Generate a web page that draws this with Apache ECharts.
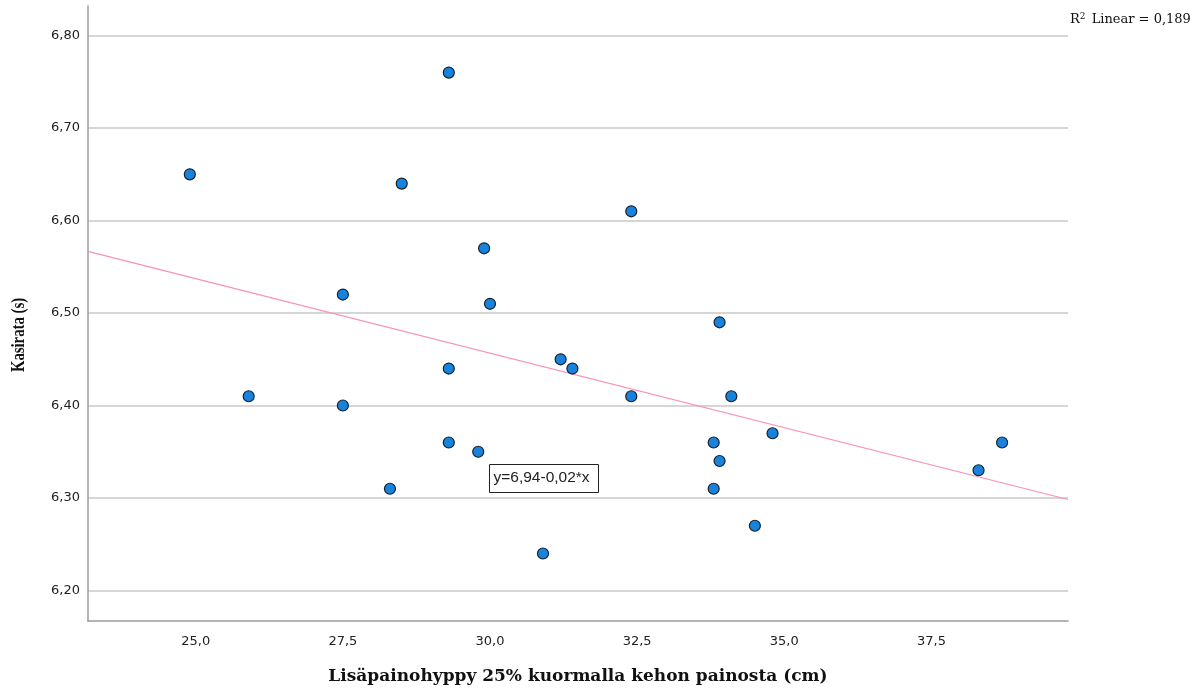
<!DOCTYPE html>
<html>
<head>
<meta charset="utf-8">
<script src="https://cdn.jsdelivr.net/npm/echarts@6/dist/echarts.min.js"></script>
<style>
  html, body { margin: 0; padding: 0; background: #fff; }
  #chart { width: 1203px; height: 693px; }
</style>
</head>
<body>
<div id="chart"></div>
<script>
// havainnot: lisäpainohyppy (cm) ja kasirata (s)
const hyppy = [24.9, 25.9, 27.5, 27.5, 28.3, 28.5, 29.3, 29.3, 29.3, 29.8, 29.9, 30.0, 30.9, 31.2, 31.4,
  32.4, 32.4, 33.8, 33.8, 33.9, 33.9, 34.1, 34.5, 34.8, 38.3, 38.7]
const kasirata = [6.65, 6.41, 6.52, 6.40, 6.31, 6.64, 6.76, 6.44, 6.36, 6.35, 6.57, 6.51, 6.24, 6.45, 6.44,
  6.61, 6.41, 6.36, 6.31, 6.49, 6.34, 6.41, 6.27, 6.37, 6.33, 6.36]

// akselien rajat ja merkinnät
const xRange = [23.17, 39.82]
const yRange = [6.167, 6.832]
const xTicks = [25, 27.5, 30, 32.5, 35, 37.5]
const yTicks = [6.2, 6.3, 6.4, 6.5, 6.6, 6.7, 6.8]

// lineaarinen sovite
const intercept = 6.9399
const slope = -0.01611
const r2 = "0,189"

const points = hyppy.map((x, i) => [x, kasirata[i]])
const fitLine = xRange.map((x) => [x, intercept + slope * x])

const comma = (v, d) => v.toFixed(d).replace(".", ",")

const chart = echarts.init(document.getElementById("chart"))

const option = {
  animation: false,
  backgroundColor: "#ffffff",
  grid: { left: 88, right: 135, top: 6, bottom: 72 },
  xAxis: {
    type: "value",
    min: xRange[0],
    max: xRange[1],
    splitLine: { show: false },
    axisTick: { show: false },
    axisLine: { lineStyle: { color: "#9c9c9c", width: 1.5 } },
    axisLabel: {
      customValues: xTicks,
      margin: 14,
      color: "#222",
      fontFamily: "DejaVu Sans",
      fontSize: 13,
      formatter: (v) => comma(v, 1),
    },
  },
  yAxis: {
    type: "value",
    min: yRange[0],
    max: yRange[1],
    splitNumber: 7,
    axisTick: { show: false },
    axisLine: { show: true, lineStyle: { color: "#9c9c9c", width: 1.5 } },
    splitLine: {
      showMinLine: false,
      showMaxLine: false,
      lineStyle: { color: "#c8c8c8", width: 1.5 },
    },
    axisLabel: {
      customValues: yTicks,
      margin: 8,
      color: "#222",
      fontFamily: "DejaVu Sans",
      fontSize: 13,
      formatter: (v) => comma(v, 2),
    },
  },
  series: [
    {
      type: "line",
      data: fitLine,
      symbol: "none",
      silent: true,
      lineStyle: { color: "#f890bb", width: 1.2 },
      z: 2,
    },
    {
      type: "scatter",
      data: points,
      symbol: "circle",
      symbolSize: 11,
      itemStyle: { color: "#1883dd", borderColor: "#16212c", borderWidth: 1.2, opacity: 1 },
      z: 3,
    },
  ],
  graphic: [
    {
      type: "text",
      x: 578,
      y: 677,
      style: {
        text: "Lisäpainohyppy 25% kuormalla kehon painosta (cm)",
        font: "bold 17px 'DejaVu Serif'",
        fill: "#111",
        align: "center",
        verticalAlign: "middle",
      },
    },
    {
      type: "text",
      x: 19,
      y: 335,
      rotation: Math.PI / 2,
      scaleX: 0.82,
      style: {
        text: "Kasirata (s)",
        font: "bold 18px 'Liberation Serif'",
        fill: "#111",
        align: "center",
        verticalAlign: "middle",
      },
    },
    {
      type: "text",
      left: 1070,
      top: 12,
      style: {
        text: "R{sup|2} Linear = " + r2,
        font: "13px 'DejaVu Serif'",
        fill: "#111",
        rich: {
          sup: { fontSize: 9, verticalAlign: "top", padding: [0, 2, 6, 0], fontFamily: "DejaVu Serif" },
        },
      },
    },
    {
      type: "group",
      left: 489,
      top: 464,
      children: [
        {
          type: "rect",
          shape: { x: 0, y: 0, width: 109, height: 28 },
          style: { fill: "#fff", stroke: "#222", lineWidth: 1 },
        },
        {
          type: "text",
          x: 4,
          y: 5,
          style: {
            text: "y=6,94-0,02*x",
            font: "15.5px 'Liberation Sans'",
            fill: "#222",
          },
        },
      ],
    },
  ],
}

chart.setOption(option)
</script>
</body>
</html>
